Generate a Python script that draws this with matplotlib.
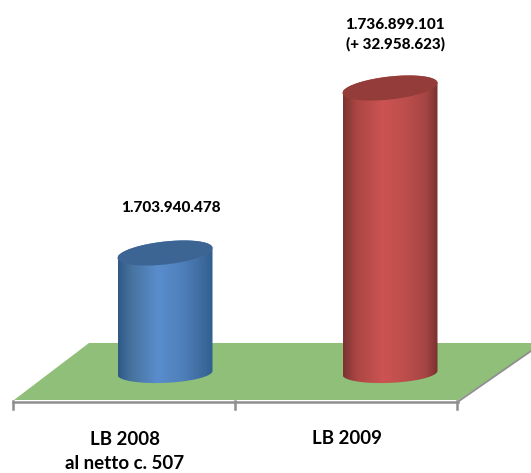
import numpy as np
import matplotlib
matplotlib.use("Agg")
import matplotlib.pyplot as plt
from matplotlib.path import Path
from matplotlib.patches import PathPatch, Polygon
from matplotlib.colors import LinearSegmentedColormap

categories = ["LB 2008\nal netto c. 507", "LB 2009"]
values = [1703940478, 1736899101]
value_labels = ["1.703.940.478", "1.736.899.101\n(+ 32.958.623)"]
base_value = 1680000000
body_colors = [["#2f5a88", "#47739f", "#5a8dcd", "#4f80bb", "#3f6c9f", "#315f90"],
               ["#7c3331", "#ab4644", "#cc5452", "#bb4d4b", "#a44543", "#7a3230"]]
body_stops = [0, 0.14, 0.42, 0.68, 0.88, 1]
top_colors = ["#3d6594", "#943c3a"]

W, H = 531, 473
plt.rcParams["font.family"] = ["Lato", "DejaVu Sans"]
fig = plt.figure(figsize=(W / 100, H / 100), dpi=100)
ax = fig.add_axes([0, 0, 1, 1])

px_per_cat = 225.0
val_per_px = (values[1] - values[0]) / 165.0
ax.axis("off")


def A(px, py):
    return (px / W, 1 - py / H)


# floor
ax.add_patch(Polygon([A(14, 400), A(89, 343), A(531, 343), A(531, 351), A(459, 400)],
                     closed=True, transform=ax.transAxes, fc="#8fbf78", ec="none", zorder=1))
# axis lines
axc = "#8e8e8e"
ax.plot(*zip(A(13, 401.5), A(458, 401.5)), transform=ax.transAxes, color=axc, lw=1.8, zorder=2)
ax.plot(*zip(A(459, 401), A(531, 351)), transform=ax.transAxes, color=axc, lw=1.3, zorder=2)
for tx in (13, 235, 457):
    ax.plot(*zip(A(tx, 401), A(tx, 409)), transform=ax.transAxes, color=axc, lw=1.8, zorder=2)

# cylinders
half_w = 47.5 / px_per_cat
t = np.linspace(0, 2 * np.pi, 121)


def ring_y(vc, ang, b_px, tilt_px):
    return vc + (b_px * np.sin(ang) + tilt_px * np.cos(ang)) * val_per_px


for i, v in enumerate(values):
    xt = i + half_w * np.cos(t)
    yt = ring_y(v, t, 11.5, 5)
    lower = np.linspace(np.pi, 2 * np.pi, 61)
    upper = np.linspace(0, np.pi, 61)
    sx = np.r_[i + half_w * np.cos(lower), i + half_w * np.cos(upper)]
    sy = np.r_[ring_y(base_value, lower, 10, 2), ring_y(v, upper, 11.5, 5)]
    path = Path(np.c_[sx, sy])
    cmap = LinearSegmentedColormap.from_list("c", list(zip(body_stops, body_colors[i])))
    im = ax.imshow(np.linspace(0, 1, 200)[None, :], cmap=cmap, aspect="auto",
                   extent=[i - half_w, i + half_w, base_value - 15 * val_per_px, v + 20 * val_per_px],
                   zorder=3, interpolation="bilinear")
    clip = PathPatch(path, transform=ax.transData, fc="none", ec="none")
    ax.add_patch(clip)
    im.set_clip_path(clip)
    ax.fill(xt, yt, color=top_colors[i], lw=0, zorder=4)

ax.set_xlim(-165 / px_per_cat, (W - 165) / px_per_cat)
ax.set_ylim(values[0] - 220 * val_per_px, values[0] + 253 * val_per_px)

# texts
val_pos = [(171, 207.5), (395, 34.5)]
for lab, (px, py) in zip(value_labels, val_pos):
    ax.text(*A(px, py), lab, transform=ax.transAxes, ha="center", va="center",
            fontsize=11, fontweight="black", linespacing=1.4, color="black", zorder=5)
cat_pos = [(125, 451), (347, 438.5)]
for lab, (px, py) in zip(categories, cat_pos):
    ax.text(*A(px, py), lab, transform=ax.transAxes, ha="center", va="center",
            fontsize=13.5, fontweight="bold", linespacing=1.5, color="black", zorder=5)

fig.savefig("out.png", dpi=100, facecolor="white")
